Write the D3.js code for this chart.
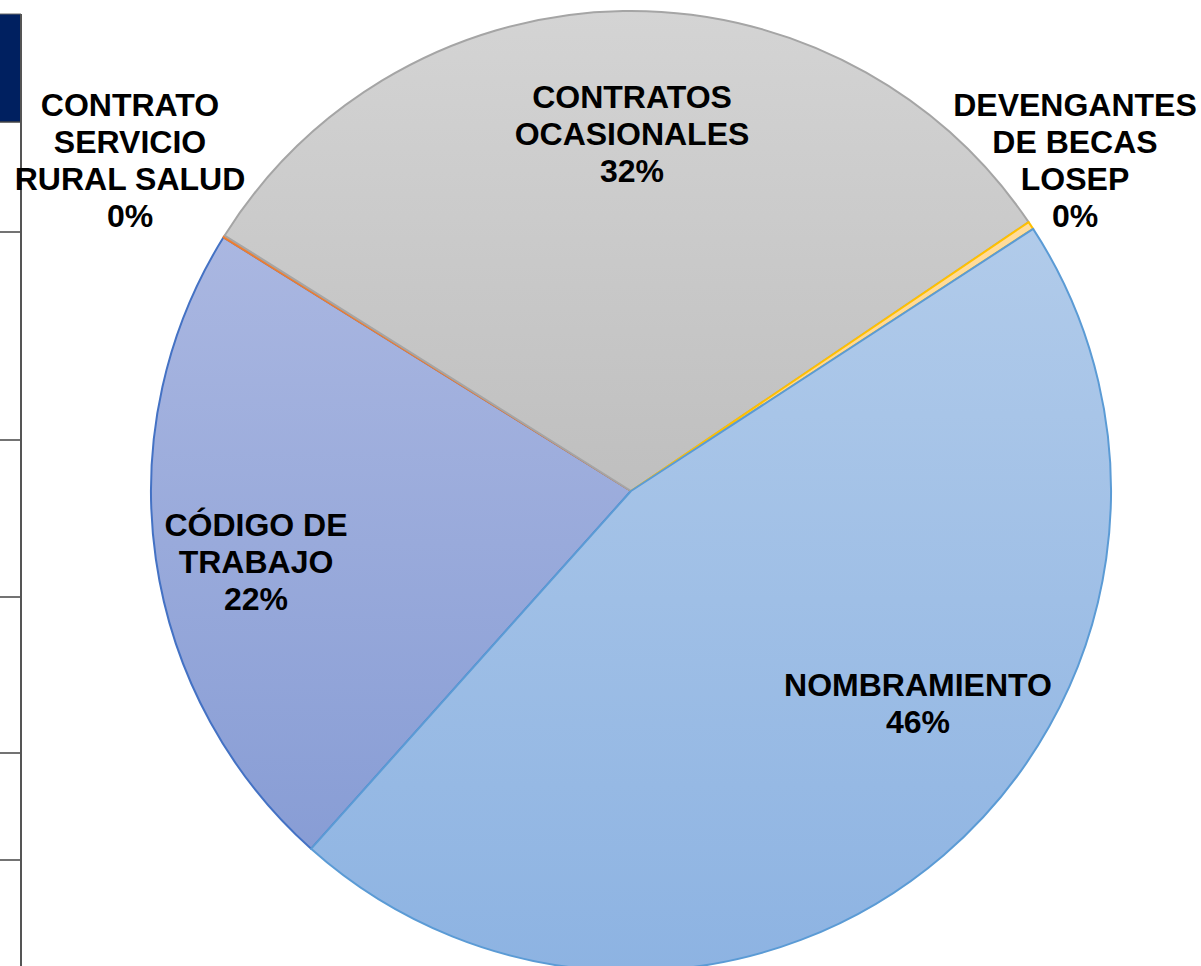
<!DOCTYPE html>
<html><head><meta charset="utf-8">
<script src="https://cdn.jsdelivr.net/npm/d3@7"></script>
<style>html,body{margin:0;padding:0;background:#fff;overflow:hidden}</style>
</head><body>
<script>
// Data (percent shares, alphabetical order as in the source sheet)
const categories = ["CÓDIGO DE TRABAJO","CONTRATO SERVICIO RURAL SALUD","CONTRATOS OCASIONALES","DEVENGANTES DE BECAS LOSEP","NOMBRAMIENTO"];
const values = [22.25, 0.07, 31.6, 0.27, 45.8];
const labelLines = [["CÓDIGO DE","TRABAJO"],["CONTRATO","SERVICIO","RURAL SALUD"],["CONTRATOS","OCASIONALES"],["DEVENGANTES","DE BECAS","LOSEP"],["NOMBRAMIENTO"]];
// styling
const fillTop = ["#aab7e1","#f4b183","#d4d4d4","#ffdc9c","#b1cbea"];
const fillBot = ["#889dd5","#f4b183","#bfbfbf","#ffd48a","#8db3e2"];
const strokes = ["#4472c4","#ed7d31","#a5a5a5","#ffc000","#5b9bd5"];
// label layout: first-line centre offsets relative to pie center (Excel best-fit placement)
const labelPos = [[-375,34],[-501,-386],[1,-394],[444,-386],[287,194]];

const W=1201,H=966, cx=631, cy=491, R=480;
const svg = d3.select("body").append("svg").attr("width",W).attr("height",H);
const defs = svg.append("defs");
categories.forEach((c,i)=>{
  const g = defs.append("linearGradient").attr("id","g"+i).attr("x1",0).attr("y1",0).attr("x2",0).attr("y2",1);
  g.append("stop").attr("offset","0%").attr("stop-color",fillTop[i]);
  g.append("stop").attr("offset","100%").attr("stop-color",fillBot[i]);
});

// left table fragment
const tbl = svg.append("g");
tbl.append("rect").attr("x",0).attr("y",14).attr("width",21).attr("height",108).attr("fill","#002060");
[122,232,440,597,753,860].forEach(y=>tbl.append("line").attr("x1",0).attr("x2",21).attr("y1",y).attr("y2",y).attr("stroke","#444").attr("stroke-width",1.5));
tbl.append("line").attr("x1",0).attr("x2",21).attr("y1",14).attr("y2",14).attr("stroke","#666").attr("stroke-width",1);
tbl.append("line").attr("x1",21).attr("x2",21).attr("y1",14).attr("y2",H).attr("stroke","#555").attr("stroke-width",2);

const start = 221.8*Math.PI/180;
const pie = d3.pie().sort(null).value(d=>d).startAngle(start).endAngle(start+2*Math.PI);
const arcs = pie(values);
const arc = d3.arc().innerRadius(0).outerRadius(R);
const g = svg.append("g").attr("transform",`translate(${cx},${cy})`);
g.selectAll("path").data(arcs).join("path")
  .attr("d",arc).attr("fill",(d,i)=>`url(#g${i})`)
  .attr("stroke",(d,i)=>strokes[i]).attr("stroke-width",2).attr("stroke-linejoin","round");

const total = values.reduce((a,b)=>a+b,0);
const lab = g.selectAll("text.lbl").data(arcs).join("text").attr("class","lbl")
  .attr("text-anchor","middle")
  .style("font-family","'Liberation Sans',Arial,sans-serif").style("font-weight","bold").style("font-size","32px").attr("fill","#000");
lab.each(function(d,i){
  const lines = labelLines[i].concat([Math.round(d.data/total*100)+"%"]);
  const t = d3.select(this);
  const lh = 37;
  const [lx,ly] = labelPos[i];
  lines.forEach((s,k)=>{
    t.append("tspan").attr("x",lx).attr("y",ly + k*lh + 11).text(s);
  });
});
</script>
</body></html>
